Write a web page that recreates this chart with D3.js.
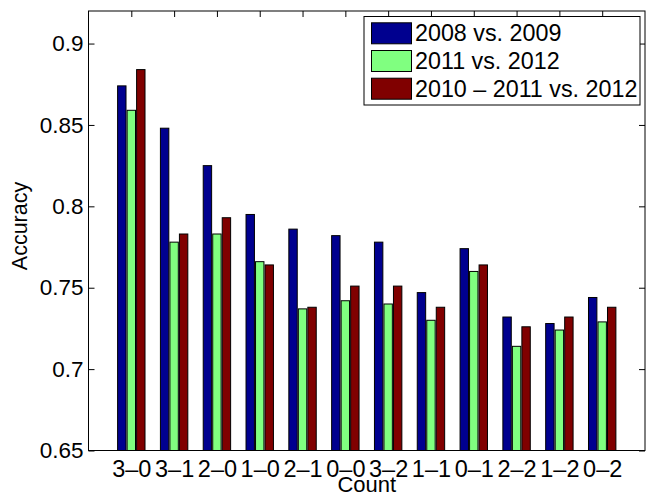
<!DOCTYPE html>
<html>
<head>
<meta charset="utf-8">
<script src="https://cdn.jsdelivr.net/npm/d3@7"></script>
<style>
  body { margin: 0; background: #fff; }
  svg { display: block; font-family: "Liberation Sans", Arial, sans-serif; }
  .axis path, .axis line { stroke: #000; }
  .axis text { fill: #000; font-size: 22.5px; }
</style>
</head>
<body>
<div id="chart"></div>
<script>
// values
var categories = ["3–0", "3–1", "2–0", "1–0", "2–1", "0–0", "3–2", "1–1", "0–1", "2–2", "1–2", "0–2"];
var seriesNames = ["2008 vs. 2009", "2011 vs. 2012", "2010 – 2011 vs. 2012"];
var acc0809 = [0.874, 0.848, 0.825, 0.795, 0.786, 0.782, 0.778, 0.747, 0.774, 0.732, 0.728, 0.744];
var acc1112 = [0.859, 0.778, 0.783, 0.766, 0.737, 0.742, 0.740, 0.730, 0.760, 0.714, 0.724, 0.729];
var acc1012 = [0.884, 0.783, 0.793, 0.764, 0.738, 0.751, 0.751, 0.738, 0.764, 0.726, 0.732, 0.738];
var yTicks = [0.65, 0.7, 0.75, 0.8, 0.85, 0.9];
var colors = ["#00008f", "#80ff80", "#800000"];

var width = 646, height = 500;
var margin = {top: 11, right: 1, bottom: 49.5, left: 88.5};
var w = width - margin.left - margin.right,
    h = height - margin.top - margin.bottom;

var svg = d3.select("#chart").append("svg")
    .attr("width", width)
    .attr("height", height);

var g = svg.append("g")
    .attr("transform", "translate(" + margin.left + "," + margin.top + ")");

// scales: x is the bar index (1..12) like matlab, xlim [0 13]
var x = d3.scaleLinear().domain([0, 13]).range([0, w]);
var inner = d3.scaleBand().domain(d3.range(3)).range([-13.7, 13.7]).paddingInner(0.116);
var y = d3.scaleLinear().domain([0.65, 0.92]).range([h, 0]);

var rows = categories.map(function(c, i) {
    return {cat: c, idx: i + 1, vals: [acc0809[i], acc1112[i], acc1012[i]]};
});

// bars
var groups = g.selectAll(".grp")
    .data(rows)
    .enter().append("g")
    .attr("class", "grp")
    .attr("transform", function(d) { return "translate(" + x(d.idx) + ",0)"; });

groups.selectAll("rect")
    .data(function(d) { return d.vals; })
    .enter().append("rect")
    .attr("x", function(d, j) { return inner(j); })
    .attr("width", inner.bandwidth())
    .attr("y", function(d) { return y(d); })
    .attr("height", function(d) { return h - y(d); })
    .attr("fill", function(d, j) { return colors[j]; })
    .attr("stroke", "#000")
    .attr("stroke-width", 1);

// axes, ticks pointing inward
g.append("g")
    .attr("class", "axis")
    .call(d3.axisLeft(y).tickValues(yTicks).tickSize(-6).tickPadding(5)
        .tickFormat(d3.format("")));

g.append("g")
    .attr("class", "axis")
    .attr("transform", "translate(" + w + ",0)")
    .call(d3.axisRight(y).tickValues(yTicks).tickSize(-6).tickFormat(""));

g.append("g")
    .attr("class", "axis")
    .call(d3.axisTop(x).tickValues(d3.range(1, 13)).tickSize(-6).tickFormat(""));

g.append("g")
    .attr("class", "axis xlab")
    .attr("transform", "translate(0," + h + ")")
    .call(d3.axisBottom(x).tickValues(d3.range(1, 13)).tickSize(0).tickPadding(10)
        .tickFormat(function(d) { return categories[d - 1]; }));

g.selectAll(".xlab text").style("font-size", "23.5px");
g.selectAll(".axis .domain").remove();

// box
g.append("rect")
    .attr("width", w)
    .attr("height", h)
    .attr("fill", "none")
    .attr("stroke", "#000");

// axis titles
svg.append("text")
    .attr("transform", "translate(27,226) rotate(-90)")
    .attr("text-anchor", "middle")
    .style("font-size", "21.5px")
    .text("Accuracy");

svg.append("text")
    .attr("x", margin.left + x(6.5))
    .attr("y", 492)
    .attr("text-anchor", "middle")
    .style("font-size", "22px")
    .text("Count");

// legend
var legend = svg.append("g").attr("transform", "translate(364,16.5)");
legend.append("rect")
    .attr("width", 276)
    .attr("height", 88.5)
    .attr("fill", "#fff")
    .attr("stroke", "#000");

var item = legend.selectAll(".item")
    .data(seriesNames)
    .enter().append("g")
    .attr("class", "item")
    .attr("transform", function(d, i) { return "translate(0," + (16.8 + i * 27.7) + ")"; });

item.append("rect")
    .attr("x", 7.5)
    .attr("y", -10.5)
    .attr("width", 40)
    .attr("height", 21)
    .attr("fill", function(d, i) { return colors[i]; })
    .attr("stroke", "#000");

item.append("text")
    .attr("x", 51)
    .attr("y", 8)
    .style("font-size", "23.3px")
    .text(function(d) { return d; });
</script>
</body>
</html>
